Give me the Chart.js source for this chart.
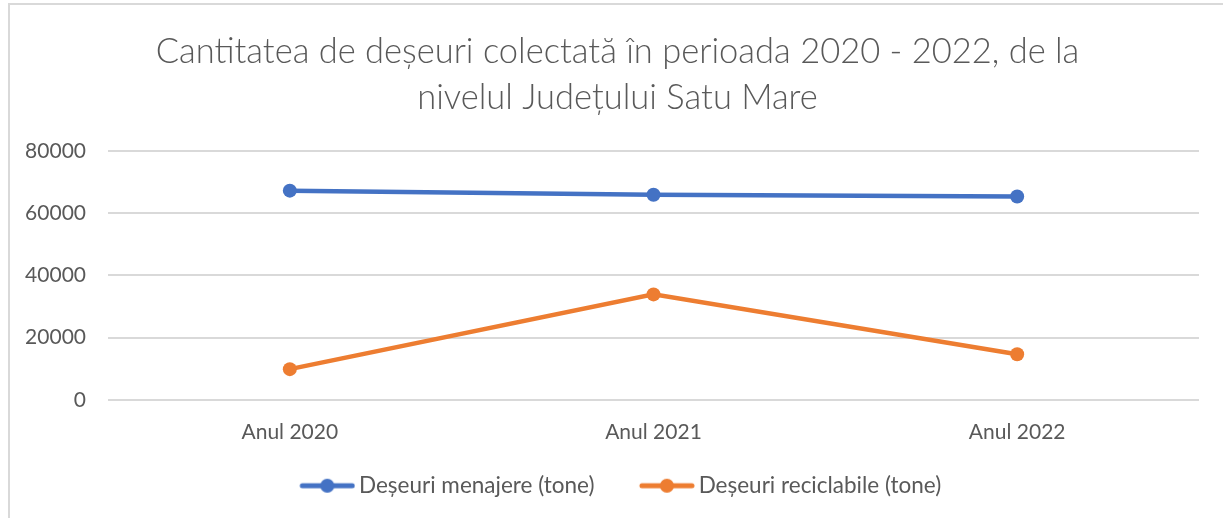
<!DOCTYPE html>
<html>
<head>
<meta charset="utf-8">
<script src="https://cdn.jsdelivr.net/npm/chart.js@4/dist/chart.umd.min.js"></script>
<style>
  html, body { margin: 0; padding: 0; background: #fff; }
  #wrap { position: relative; width: 1223px; height: 518px; overflow: hidden; }
  #frame { position: absolute; left: 8px; top: 3px; width: 1240px; height: 540px;
           border-top: 2px solid #d9d9d9; border-left: 2px solid #d9d9d9; }
  canvas { position: absolute; left: 0; top: 0; }
</style>
</head>
<body>
<div id="wrap">
  <div id="frame"></div>
  <canvas id="c" width="1223" height="518"></canvas>
</div>
<script>
/* ===== Deseuri colectate Satu Mare ===== */

const titleLines = ['Cantitatea de deșeuri colectată în perioada 2020 - 2022, de la', 'nivelul Județului Satu Mare'];
const categories = ['Anul 2020', 'Anul 2021', 'Anul 2022'];
const menajere   = [67200, 65900, 65300];
const reciclabile = [9900, 33900, 14700];
const seriesNames = ['Deșeuri menajere (tone)', 'Deșeuri reciclabile (tone)'];
const yTicks = [0, 20000, 40000, 60000, 80000];

const BLUE = '#4472C4';
const ORANGE = '#ED7D31';
const TEXT = '#595959';
const FONT = 'Lato, "Open Sans", sans-serif';

// legend marker: short line with a dot, drawn on the right part of a wider image
// (the empty left part gives the gap between legend items)
function legendMark(color) {
  const cv = document.createElement('canvas');
  cv.width = 81; cv.height = 16;
  const g = cv.getContext('2d');
  g.strokeStyle = color; g.lineWidth = 5; g.lineCap = 'round';
  g.beginPath(); g.moveTo(28, 8); g.lineTo(78, 8); g.stroke();
  g.fillStyle = color;
  g.beginPath(); g.arc(53, 8, 7, 0, Math.PI * 2); g.fill();
  return cv;
}
const marks = [legendMark(BLUE), legendMark(ORANGE)];

function makeSet(label, data, color) {
  return {
    label: label,
    data: data,
    borderColor: color,
    backgroundColor: color,
    borderWidth: 4.5,
    pointRadius: 7,
    pointHoverRadius: 7,
    pointBorderWidth: 0,
    tension: 0
  };
}

// Excel centres title and legend over the whole chart, not the plot area
const recentre = {
  id: 'recentre',
  afterLayout(chart) {
    chart.legend.left += 14;
    chart.titleBlock.left += 13;
    chart.titleBlock.right += 13;
  }
};

new Chart(document.getElementById('c').getContext('2d'), {
  type: 'line',
  data: {
    labels: categories,
    datasets: [
      makeSet(seriesNames[0], menajere, BLUE),
      makeSet(seriesNames[1], reciclabile, ORANGE)
    ]
  },
  plugins: [recentre],
  options: {
    responsive: false,
    animation: false,
    layout: { padding: { left: 10, right: 24, top: 14, bottom: 11 } },
    plugins: {
      tooltip: { enabled: false },
      title: {
        display: true,
        text: titleLines,
        color: TEXT,
        font: { family: FONT, size: 34.5, weight: '300', lineHeight: 1.33 },
        padding: { top: 15, bottom: 30 }
      },
      legend: {
        position: 'bottom',
        labels: {
          color: TEXT,
          font: { family: FONT, size: 22.5 },
          usePointStyle: true,
          pointStyleWidth: 66,
          padding: 27,
          generateLabels: chart => chart.data.datasets.map((ds, i) => ({
            text: ds.label,
            fontColor: TEXT,
            pointStyle: marks[i],
            datasetIndex: i,
            lineWidth: 0,
            strokeStyle: 'transparent',
            fillStyle: 'transparent'
          }))
        }
      }
    },
    scales: {
      x: {
        offset: true,
        grid: { display: false, drawTicks: false },
        border: { display: false },
        afterFit: s => { s.height = 47.5; },
        ticks: { color: TEXT, font: { family: FONT, size: 21 }, padding: 20 }
      },
      y: {
        min: 0,
        max: 80000,
        afterBuildTicks: s => { s.ticks = yTicks.map(v => ({ value: v })); },
        afterFit: s => { s.width = 98; },
        grid: { color: '#d9d9d9', lineWidth: 2, drawTicks: false },
        border: { display: false },
        ticks: {
          color: TEXT,
          font: { family: FONT, size: 21 },
          padding: 22,
          callback: v => String(v)
        }
      }
    }
  }
});
</script>
</body>
</html>
